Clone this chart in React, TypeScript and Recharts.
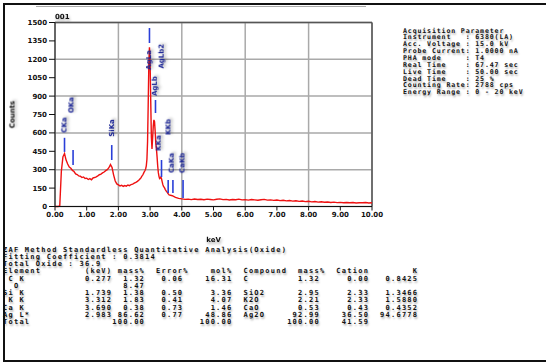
import React from 'react';
import {
  LineChart,
  Line,
  XAxis,
  YAxis,
  CartesianGrid,
  ReferenceLine,
  ReferenceDot,
} from 'recharts';

// spectrum channels, read in three blocks with their own channel width
const lowStart = 0;
const lowStep = 0.05;
const lowCounts = [
  0, 0, 0, 4, 285, 405, 432, 378, 346, 321,
  312, 294, 285, 266, 261, 249, 247, 236, 241, 229,
  231, 220, 227, 218, 233, 236, 242, 250, 259, 264,
  274, 281, 292, 300, 316, 342, 318, 256, 208, 184,
  176, 168, 173, 164, 171, 166, 175, 170, 179, 183,
  190, 197, 205, 216, 230,
];

const agStart = 2.72;
const agStep = 0.02;
const agCounts = [
  238, 247, 254, 263, 274, 285, 293, 308, 332, 385,
  530, 830, 1160, 1298, 1175, 860, 565, 470, 560, 655,
  706, 692, 612, 515, 470, 405, 330, 276, 246, 228,
  232, 240, 226, 202, 180, 166, 157, 150, 138, 129,
  122, 117, 108, 101, 95,
];

const tailStart = 3.7;
const tailStep = 0.1;
const tailCounts = [
  88, 74, 66, 62, 58, 60, 56, 61, 57, 59,
  55, 60, 57, 54, 59, 62, 56, 58, 53, 57,
  55, 60, 54, 56, 52, 57, 54, 51, 55, 58,
  52, 54, 50, 53, 48, 51, 46, 49, 44, 47,
  42, 45, 40, 43, 38, 41, 36, 39, 35, 37,
  33, 36, 32, 34, 31, 33, 30, 32, 29, 31,
  30, 32, 29, 31,
];

const energyTicks = [0, 1, 2, 3, 4, 5, 6, 7, 8, 9, 10];
const countTicks = [0, 150, 300, 450, 600, 750, 900, 1050, 1200, 1350, 1500];

// KLM markers
const peakNames = ['CKa', 'OKa', 'SiKa', 'AgLa', 'AgLb', 'AgLb2', 'KKa', 'KKb', 'CaKa', 'CaKb'];
const peakEnergies = [0.3, 0.57, 1.79, 2.98, 3.17, 3.37, 3.36, 3.57, 3.72, 4.04];
const markerTop = [560, 461, 501, 1455, 868, 0, 379, 216, 216, 216];
const markerBottom = [445, 338, 379, 1333, 762, 0, 240, 110, 110, 69];
const labelEnergies = [0.3, 0.52, 1.8, 2.97, 3.15, 3.37, 3.27, 3.58, 3.68, 4.02];
const labelCounts = [664, 827, 640, 1194, 982, 1225, 518, 648, 355, 355];

const acquisition = [
  'Acquisition Parameter',
  'Instrument   : 6380(LA)',
  'Acc. Voltage : 15.0 kV',
  'Probe Current: 1.0000 nA',
  'PHA mode     : T4',
  'Real Time    : 67.47 sec',
  'Live Time    : 50.00 sec',
  'Dead Time    : 25 %',
  'Counting Rate: 2788 cps',
  'Energy Range : 0 - 20 keV',
];

// quantitative result table
const elements = [' C K', '  O', 'Si K', ' K K', 'Ca K', 'Ag L*'];
const lineEnergies = ['0.277', '', '1.739', '3.312', '3.690', '2.983'];
const massPct = ['1.32', '8.47', '1.38', '1.83', '0.38', '86.62'];
const errorPct = ['0.06', '', '0.50', '0.41', '0.73', '0.77'];
const molPct = ['16.31', '', '3.36', '4.07', '1.46', '48.86'];
const compounds = ['C', '', 'SiO2', 'K2O', 'CaO', 'Ag2O'];
const compoundMass = ['1.32', '', '2.95', '2.21', '0.53', '92.99'];
const cations = ['0.00', '', '2.33', '2.33', '0.43', '36.50'];
const kRatios = ['0.8425', '', '1.3466', '1.5880', '0.4352', '94.6778'];

const padR = (s: string, w: number) => s + ' '.repeat(Math.max(0, w - s.length));
const padL = (s: string, w: number) => ' '.repeat(Math.max(0, w - s.length)) + s;

const row = (
  name: string, kev: string, mass: string, err: string, mol: string,
  comp: string, cmass: string, cat: string, k: string,
) =>
  padR(name, 15) + padL(kev, 5) + padL(mass, 6) + padL(err, 7) + padL(mol, 9) +
  '  ' + padR(comp, 8) + padL(cmass, 6) + padL(cat, 9) + padL(k, 9);

const tableLines = [
  'ZAF Method Standardless Quantitative Analysis(Oxide)',
  'Fitting Coefficient : 0.3814',
  'Total Oxide : 36.9',
  padR('Element', 15) + padR('(keV)', 6) + padR('mass%', 7) + padR('Error%', 10) +
    padR('mol%', 6) + padR('Compound', 10) + padR('mass%', 7) + padR('Cation', 14) + 'K',
  ...elements.map((el, i) =>
    row(el, lineEnergies[i], massPct[i], errorPct[i], molPct[i], compounds[i], compoundMass[i], cations[i], kRatios[i]),
  ),
  row('Total', '', '100.00', '', '100.00', '', '100.00', '41.59', ''),
];

const toPoints = (start: number, step: number, counts: number[]) =>
  counts.map((c, i) => ({ keV: Number((start + i * step).toFixed(2)), counts: c }));

const spectrum = [
  ...toPoints(lowStart, lowStep, lowCounts),
  ...toPoints(agStart, agStep, agCounts),
  ...toPoints(tailStart, tailStep, tailCounts),
];

const shadow = 'drop-shadow(1px 2px 1.5px rgba(0,0,0,0.35))';
const tickStyle = { fill: '#111', fontSize: 7, fontWeight: 700, fontFamily: 'DejaVu Sans' };

const peakLabel = (name: string) => (props: any) => (
  <text
    x={props.cx}
    y={props.cy}
    transform={`rotate(-90 ${props.cx} ${props.cy})`}
    textAnchor="middle"
    dominantBaseline="central"
    fontSize={7}
    fontWeight={700}
    fontFamily="DejaVu Sans"
    fill="#1a2496"
    style={{ filter: shadow }}
  >
    {name}
  </text>
);

export default function App() {
  return (
    <div
      style={{
        position: 'absolute',
        left: 0,
        top: 0,
        width: 546,
        height: 364,
        overflow: 'hidden',
        background: '#fff',
      }}
    >
      <style>{`.recharts-cartesian-axis-tick text, .recharts-label { filter: ${shadow}; }`}</style>

      {/* window frame */}
      <div
        style={{
          position: 'absolute',
          left: 3,
          top: 3,
          width: 600,
          height: 359,
          border: '2.5px solid #111',
          boxSizing: 'border-box',
        }}
      />
      <div style={{ position: 'absolute', left: 36, top: 6, width: 330, height: 1, background: '#aaa' }} />

      <div
        style={{
          position: 'absolute',
          left: 55,
          top: 13,
          font: '700 7px "DejaVu Sans"',
          color: '#111',
          filter: shadow,
        }}
      >
        001
      </div>

      <div style={{ position: 'absolute', left: 0, top: 0 }}>
        <LineChart
          width={546}
          height={364}
          data={spectrum}
          margin={{ top: 22.5, right: 174, left: 8, bottom: 122.5 }}
        >
          <CartesianGrid stroke="#a9a9a9" strokeWidth={1.5} />
          <XAxis
            dataKey="keV"
            type="number"
            domain={[0, 10]}
            ticks={energyTicks}
            tickFormatter={(v: number) => v.toFixed(2)}
            height={35}
            stroke="#111"
            tickSize={4}
            tickMargin={2}
            tick={tickStyle}
            label={{ value: 'keV', position: 'insideBottom', offset: 0, ...tickStyle }}
          />
          <YAxis
            type="number"
            domain={[0, 1500]}
            ticks={countTicks}
            width={47}
            stroke="#111"
            tickSize={6}
            tickMargin={2}
            tick={tickStyle}
            label={{
              value: 'Counts',
              angle: -90,
              position: 'insideLeft',
              offset: 4,
              textAnchor: 'middle',
              ...tickStyle,
            }}
          />
          <ReferenceLine x={10} stroke="#555" strokeWidth={1.5} />
          <ReferenceLine y={1500} stroke="#555" strokeWidth={1.5} />
          <Line
            type="linear"
            dataKey="counts"
            stroke="#ee1111"
            strokeWidth={1.4}
            dot={false}
            isAnimationActive={false}
          />
          {peakNames.map((name, i) =>
            markerTop[i] > markerBottom[i] ? (
              <ReferenceLine
                key={`m-${name}`}
                segment={[
                  { x: peakEnergies[i], y: markerBottom[i] },
                  { x: peakEnergies[i], y: markerTop[i] },
                ]}
                stroke="#2a3fd8"
                strokeWidth={1.6}
              />
            ) : null,
          )}
          {peakNames.map((name, i) => (
            <ReferenceDot
              key={`l-${name}`}
              x={labelEnergies[i]}
              y={labelCounts[i]}
              r={0}
              shape={peakLabel(name)}
            />
          ))}
        </LineChart>
      </div>

      <pre
        style={{
          position: 'absolute',
          left: 403,
          top: 27.6,
          margin: 0,
          font: '700 6.6px/6.85px "DejaVu Sans Mono"',
          letterSpacing: 0.85,
          color: '#111',
          textShadow: '1px 2px 2px rgba(0,0,0,0.3)',
        }}
      >
        {acquisition.join('\n')}
      </pre>

      <pre
        style={{
          position: 'absolute',
          left: 3,
          top: 246.6,
          margin: 0,
          font: '700 7px/7.27px "DejaVu Sans Mono"',
          letterSpacing: 1.25,
          color: '#111',
          textShadow: '1px 2px 2px rgba(0,0,0,0.3)',
        }}
      >
        {tableLines.join('\n')}
      </pre>
    </div>
  );
}
